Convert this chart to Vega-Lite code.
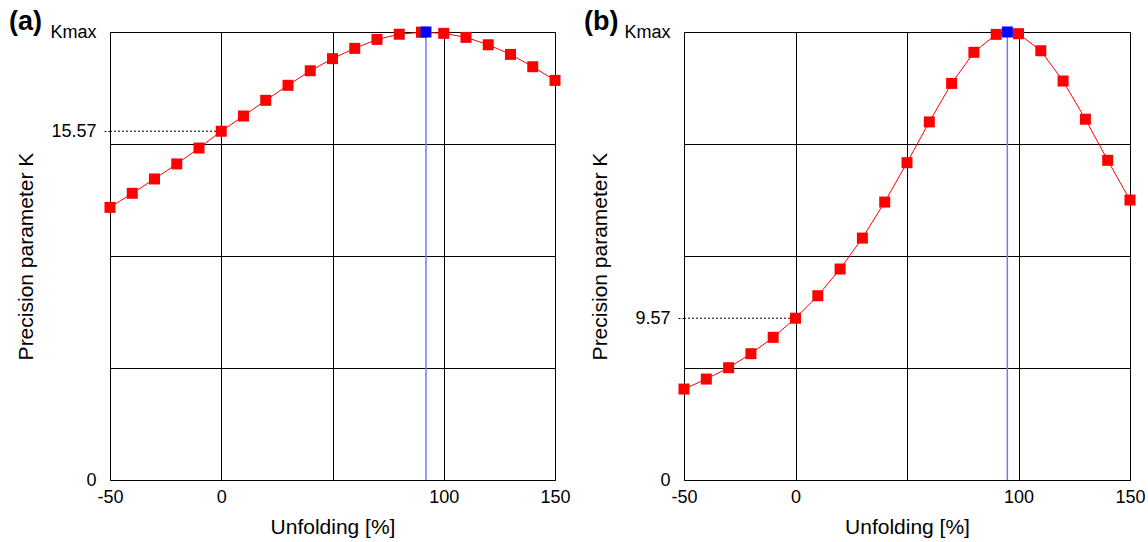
{
  "$schema": "https://vega.github.io/schema/vega-lite/v6.json",
  "padding": {"left": 8, "top": 7, "right": 5, "bottom": 5},
  "background": "white",
  "spacing": 129,
  "bounds": "flush",
  "config": {
    "font": "Liberation Sans",
    "view": {"stroke": "#000", "strokeWidth": 1},
    "axis": {
      "labelFont": "Liberation Sans",
      "titleFont": "Liberation Sans",
      "labelFontSize": 18,
      "labelColor": "#000",
      "titleColor": "#000",
      "titleFontWeight": "normal",
      "titleFontSize": 21,
      "domain": false,
      "gridColor": "#000",
      "gridWidth": 1,
      "gridOpacity": 1,
      "labelOverlap": false,
      "labelFlush": false
    }
  },
  "datasets": {
    "curveA": [
      {"u": -50, "k": 12.17}, {"u": -40, "k": 12.80}, {"u": -30, "k": 13.44}, {"u": -20, "k": 14.11},
      {"u": -10, "k": 14.82}, {"u": 0, "k": 15.57}, {"u": 10, "k": 16.25}, {"u": 20, "k": 16.95},
      {"u": 30, "k": 17.62}, {"u": 40, "k": 18.27}, {"u": 50, "k": 18.81}, {"u": 60, "k": 19.27},
      {"u": 70, "k": 19.67}, {"u": 80, "k": 19.90}, {"u": 90, "k": 19.99}, {"u": 100, "k": 19.94},
      {"u": 110, "k": 19.76}, {"u": 120, "k": 19.43}, {"u": 130, "k": 19.00}, {"u": 140, "k": 18.45},
      {"u": 150, "k": 17.84}
    ],
    "curveB": [
      {"u": -50, "k": 5.38}, {"u": -40, "k": 5.97}, {"u": -30, "k": 6.64}, {"u": -20, "k": 7.47},
      {"u": -10, "k": 8.44}, {"u": 0, "k": 9.57}, {"u": 10, "k": 10.90}, {"u": 20, "k": 12.48},
      {"u": 30, "k": 14.31}, {"u": 40, "k": 16.44}, {"u": 50, "k": 18.77}, {"u": 60, "k": 21.18},
      {"u": 70, "k": 23.46}, {"u": 80, "k": 25.30}, {"u": 90, "k": 26.36}, {"u": 100, "k": 26.40},
      {"u": 110, "k": 25.39}, {"u": 120, "k": 23.60}, {"u": 130, "k": 21.34}, {"u": 140, "k": 18.91},
      {"u": 150, "k": 16.56}
    ],
    "peakA": [{"u": 92, "k": 20}],
    "peakB": [{"u": 95, "k": 26.5}],
    "refA": [{"u": -50, "u1": 0, "k": 15.57}],
    "refB": [{"u": -50, "u1": 0, "k": 9.57}],
    "tagA": [{"u": -50, "k": 20, "label": "(a)"}],
    "tagB": [{"u": -50, "k": 26.5, "label": "(b)"}]
  },
  "hconcat": [
    {
      "width": 445,
      "height": 448,
      "encoding": {
        "x": {
          "field": "u", "type": "quantitative",
          "scale": {"domain": [-50, 150], "nice": false, "zero": false},
          "axis": {
            "title": "Unfolding [%]",
            "values": [-50, 0, 50, 100, 150],
            "labelExpr": "datum.value == 50 ? '' : '' + datum.value",
            "grid": true,
            "ticks": false,
            "labelPadding": 8,
            "titlePadding": 10
          }
        },
        "y": {
          "field": "k", "type": "quantitative",
          "scale": {"domain": [0, 20], "nice": false, "zero": true},
          "axis": {
            "title": "Precision parameter K",
            "values": [0, 5, 10, 15, 15.57, 20],
            "labelExpr": "datum.value == 20 ? 'Kmax' : (datum.value == 15.57 ? '15.57' : (datum.value == 0 ? '0' : ''))",
            "grid": true,
            "gridOpacity": {"condition": {"test": "datum.value == 5 || datum.value == 10 || datum.value == 15", "value": 1}, "value": 0},
            "ticks": true,
            "tickSize": 7,
            "tickColor": "#000",
            "tickDash": [2, 2],
            "tickOpacity": {"condition": {"test": "datum.value == 15.57", "value": 1}, "value": 0},
            "labelPadding": 7,
            "titlePadding": 13
          }
        }
      },
      "layer": [
        {
          "data": {"name": "refA"},
          "mark": {"type": "rule", "color": "#000", "strokeWidth": 1, "strokeDash": [2, 2]},
          "encoding": {"x2": {"field": "u1"}}
        },
        {
          "data": {"name": "peakA"},
          "mark": {"type": "rule", "color": "#7878ff", "strokeWidth": 1.5},
          "encoding": {"y2": {"datum": 0}}
        },
        {
          "data": {"name": "curveA"},
          "mark": {"type": "line", "color": "#ff0000", "strokeWidth": 1,
                   "point": {"shape": "square", "size": 121, "filled": true, "fill": "#ff0000", "opacity": 1}}
        },
        {
          "data": {"name": "peakA"},
          "mark": {"type": "point", "shape": "square", "size": 121, "filled": true, "fill": "#0000ff", "opacity": 1}
        },
        {
          "data": {"name": "tagA"},
          "mark": {"type": "text", "align": "left", "baseline": "alphabetic", "dx": -101, "dy": -2, "fontSize": 27, "fontWeight": "bold", "color": "#000"},
          "encoding": {"text": {"field": "label"}}
        }
      ]
    },
    {
      "width": 446,
      "height": 448,
      "encoding": {
        "x": {
          "field": "u", "type": "quantitative",
          "scale": {"domain": [-50, 150], "nice": false, "zero": false},
          "axis": {
            "title": "Unfolding [%]",
            "values": [-50, 0, 50, 100, 150],
            "labelExpr": "datum.value == 50 ? '' : '' + datum.value",
            "grid": true,
            "ticks": false,
            "labelPadding": 8,
            "titlePadding": 10
          }
        },
        "y": {
          "field": "k", "type": "quantitative",
          "scale": {"domain": [0, 26.5], "nice": false, "zero": true},
          "axis": {
            "title": "Precision parameter K",
            "values": [0, 6.625, 9.57, 13.25, 19.875, 26.5],
            "labelExpr": "datum.value == 26.5 ? 'Kmax' : (datum.value == 9.57 ? '9.57' : (datum.value == 0 ? '0' : ''))",
            "grid": true,
            "gridOpacity": {"condition": {"test": "datum.value == 6.625 || datum.value == 13.25 || datum.value == 19.875", "value": 1}, "value": 0},
            "ticks": true,
            "tickSize": 7,
            "tickColor": "#000",
            "tickDash": [2, 2],
            "tickOpacity": {"condition": {"test": "datum.value == 9.57", "value": 1}, "value": 0},
            "labelPadding": 7,
            "titlePadding": 13
          }
        }
      },
      "layer": [
        {
          "data": {"name": "refB"},
          "mark": {"type": "rule", "color": "#000", "strokeWidth": 1, "strokeDash": [2, 2]},
          "encoding": {"x2": {"field": "u1"}}
        },
        {
          "data": {"name": "peakB"},
          "mark": {"type": "rule", "color": "#7878ff", "strokeWidth": 1.5},
          "encoding": {"y2": {"datum": 0}}
        },
        {
          "data": {"name": "curveB"},
          "mark": {"type": "line", "color": "#ff0000", "strokeWidth": 1,
                   "point": {"shape": "square", "size": 121, "filled": true, "fill": "#ff0000", "opacity": 1}}
        },
        {
          "data": {"name": "peakB"},
          "mark": {"type": "point", "shape": "square", "size": 121, "filled": true, "fill": "#0000ff", "opacity": 1}
        },
        {
          "data": {"name": "tagB"},
          "mark": {"type": "text", "align": "left", "baseline": "alphabetic", "dx": -100, "dy": -2, "fontSize": 27, "fontWeight": "bold", "color": "#000"},
          "encoding": {"text": {"field": "label"}}
        }
      ]
    }
  ]
}
